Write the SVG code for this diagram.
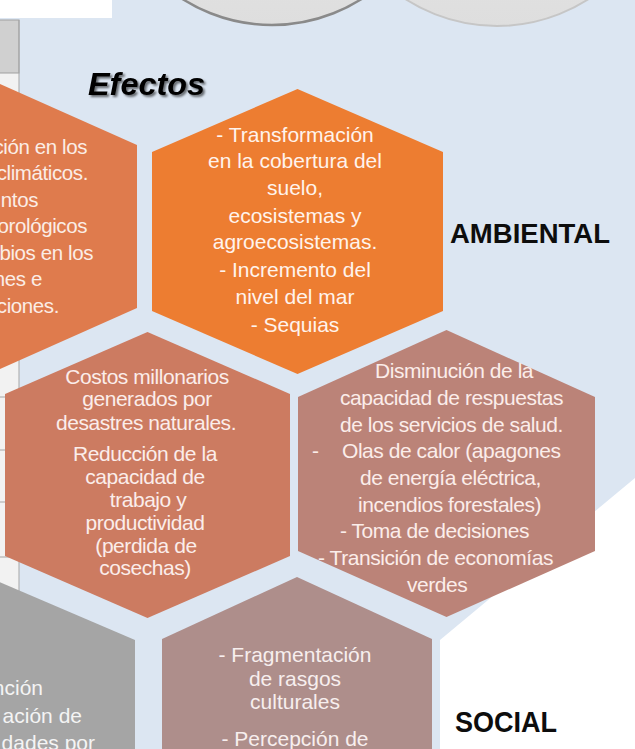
<svg xmlns="http://www.w3.org/2000/svg" width="635" height="749" viewBox="0 0 635 749">
<defs>
<style>
.t{font-family:"Liberation Sans",Arial,sans-serif;font-size:21px;}
.ta{fill:#FFF3EC;text-anchor:middle;}
.tb{fill:#FBEDEA;letter-spacing:-0.45px;}
.tc{fill:#F7EEEE;text-anchor:middle;}
.tl{fill:#FBEDE6;text-anchor:end;letter-spacing:-0.4px;font-size:20.5px;}
.tg{fill:#F4F4F4;text-anchor:end;}
.lbl{font-family:"Liberation Sans",Arial,sans-serif;font-weight:bold;fill:#0D0D0D;}
.tline{stroke:#A6A6A6;stroke-width:1;}
</style>
<linearGradient id="cg" x1="0" y1="0" x2="0" y2="1">
<stop offset="0" stop-color="#EFEFEF"/>
<stop offset="1" stop-color="#DEDEDE"/>
</linearGradient>
<filter id="sh" x="-10%" y="-20%" width="130%" height="160%">
<feDropShadow dx="2" dy="2" stdDeviation="1.2" flood-color="#000" flood-opacity="0.55"/>
</filter>
</defs>

<g id="background">
<rect x="0" y="0" width="635" height="749" fill="#DCE6F2"/>
<path d="M635 478 L440 640 L440 749 L635 749 Z" fill="#FFFFFF"/>
<rect x="0" y="0" width="112" height="18" fill="#FFFFFF"/>
</g>

<g id="table">
<rect x="0" y="20" width="19" height="729" fill="#F2F2F2"/>
<rect x="-1" y="20" width="20" height="53" fill="#D0D0D0" stroke="#A0A0A0" stroke-width="1"/>
<line class="tline" x1="19" y1="20" x2="19" y2="749"/>
<line class="tline" x1="0" y1="397" x2="19" y2="397"/>
<line class="tline" x1="0" y1="450" x2="19" y2="450"/>
<line class="tline" x1="0" y1="502" x2="19" y2="502"/>
<line class="tline" x1="0" y1="557" x2="19" y2="557"/>
</g>

<g id="top-circles">
<circle cx="272" cy="-142" r="167" fill="url(#cg)" stroke="#8A8A8A" stroke-width="2.5"/>
<circle cx="497" cy="-143" r="169" fill="url(#cg)" stroke="#C6C6C6" stroke-width="2"/>
</g>

<g id="connectors"></g>

<g id="hex-left-top">
<polygon points="-9,80 137,145 137,308 -9,373 -155,308 -155,145" fill="#DF7B4D"/>
<text class="t tl" x="87" y="154">ción en los</text>
<text class="t tl" x="88" y="180">climáticos.</text>
<text class="t tl" x="38" y="207">ntos</text>
<text class="t tl" x="87" y="233">orológicos</text>
<text class="t tl" x="93" y="260">mbios en los</text>
<text class="t tl" x="42" y="286">nes e</text>
<text class="t tl" x="59" y="313">ciones.</text>
</g>

<g id="hex-ambiental">
<polygon points="297.5,89 443,152 443,311 297.5,374 152,311 152,152" fill="#ED7D31"/>
<text class="t ta" x="295" y="142">- Transformación</text>
<text class="t ta" x="295" y="168">en la cobertura del</text>
<text class="t ta" x="295" y="195">suelo,</text>
<text class="t ta" x="295" y="223">ecosistemas y</text>
<text class="t ta" x="295" y="249">agroecosistemas.</text>
<text class="t ta" x="295" y="277">- Incremento del</text>
<text class="t ta" x="295" y="304">nivel del mar</text>
<text class="t ta" x="295" y="332">- Sequias</text>
</g>

<g id="hex-economico">
<polygon points="147.5,332 290,394 290,556 147.5,618 5,556 5,394" fill="#CC7B61"/>
<g class="t tb" text-anchor="middle">
<text x="147" y="384">Costos millonarios</text>
<text x="147" y="406">generados por</text>
<text x="146" y="430">desastres naturales.</text>
<text x="145" y="461">Reducción de la</text>
<text x="145" y="484">capacidad de</text>
<text x="148" y="507">trabajo y</text>
<text x="145" y="530">productividad</text>
<text x="146" y="553">(perdida de</text>
<text x="145" y="575">cosechas)</text>
</g>
</g>

<g id="hex-salud">
<polygon points="446.5,330 595,397 595,551 446.5,617 298,551 298,397" fill="#BB8378"/>
<g class="t tb">
<text x="375" y="378">Disminución de la</text>
<text x="340" y="405">capacidad de respuestas</text>
<text x="340" y="432">de los servicios de salud.</text>
<text y="458"><tspan x="312">-</tspan><tspan x="342">Olas de calor (apagones</tspan></text>
<text x="360" y="485">de energía eléctrica,</text>
<text x="358" y="512">incendios forestales)</text>
<text x="340" y="538">- Toma de decisiones</text>
<text x="318" y="565">- Transición de economías</text>
<text x="407" y="592">verdes</text>
</g>
</g>

<g id="hex-social">
<polygon points="297,577 432,639 432,820 297,880 162,820 162,639" fill="#AE8E8B"/>
<text class="t tc" x="295" y="662">- Fragmentación</text>
<text class="t tc" x="295" y="686">de rasgos</text>
<text class="t tc" x="295" y="709">culturales</text>
<text class="t tc" x="295" y="746">- Percepción de</text>
</g>

<g id="hex-gris">
<polygon points="-10,578 135,640 135,820 -10,880 -155,820 -155,640" fill="#A5A5A5"/>
<text class="t tg" x="43" y="695">nción</text>
<text class="t tg" x="82" y="723">ación de</text>
<text class="t tg" x="95" y="750">dades por</text>
</g>

<g id="label-efectos">
<text x="88" y="95" font-family="'Liberation Sans',Arial,sans-serif" font-size="32" font-weight="bold" font-style="italic" fill="#000" textLength="117" lengthAdjust="spacingAndGlyphs" filter="url(#sh)">Efectos</text>
</g>

<g id="label-ambiental">
<text class="lbl" x="450" y="243" font-size="28" textLength="160" lengthAdjust="spacingAndGlyphs">AMBIENTAL</text>
</g>

<g id="label-social">
<text class="lbl" x="455" y="732" font-size="30" textLength="102" lengthAdjust="spacingAndGlyphs">SOCIAL</text>
</g>
</svg>
